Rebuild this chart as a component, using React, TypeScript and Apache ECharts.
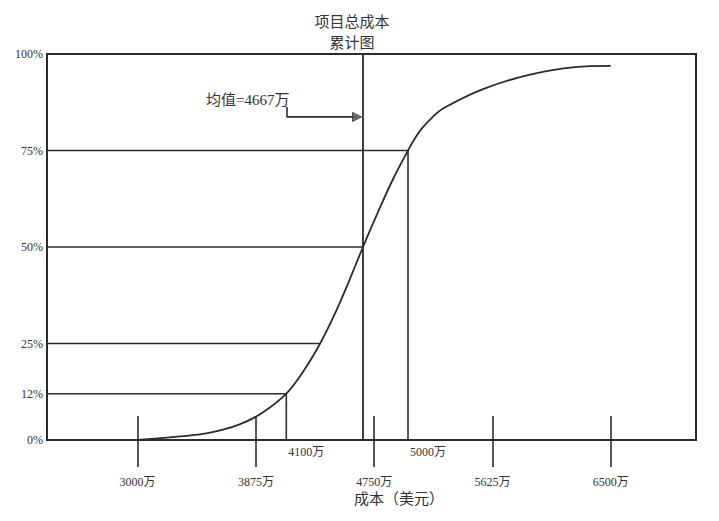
import React, { useEffect, useRef } from "react";
import * as echarts from "echarts";

// ---- data ----
const costTicks = [3000, 3875, 4750, 5625, 6500]; // x tick labels (万)
const percentTicks = [0, 12, 25, 50, 75, 100]; // y tick labels (%)

// cumulative curve: cost (万) -> cumulative probability (%)
const curveCost = [3000, 3340, 3545, 3750, 3920, 4100, 4230, 4350, 4450, 4550, 4667, 4790, 4895, 5000, 5045, 5100, 5180, 5265, 5555, 5895, 6235, 6500];
const curvePercent = [0, 1, 2, 4, 7, 12, 18, 25, 32, 40, 50, 60, 68, 75, 77.8, 80.6, 83.6, 86, 90.9, 94.6, 96.6, 96.9];

// guide levels and where they meet the curve
const guideLevels = [12, 25, 50, 75];
const guideCosts = [4100, 4350, 4667, 5000];
const dropLevels = [12, 75]; // levels with a vertical drop + label
const meanCost = 4667;
const meanArrowLevels = [86.3, 83.7]; // elbow arrow: start level, horizontal level
const meanArrowStartCost = 4105;
const meanArrowTipCost = 4623;

const xMin = 2330;
const xMax = 7130;

const INK = "#2b2b2b";
const TEXT = "#333";
const SERIF = "'Liberation Serif', 'Noto Sans CJK SC', serif";

function buildOption() {
  const guideSeries = guideLevels.map((lvl, i) => {
    const c = guideCosts[i];
    const data: any[] = [
      [xMin, lvl],
      [c, lvl],
    ];
    if (dropLevels.includes(lvl)) {
      data.push({
        value: [c, 0],
        label: {
          show: true,
          formatter: `${c}万`,
          position: [2, 6],
          fontSize: 12,
          fontFamily: SERIF,
          color: TEXT,
        },
      });
    }
    return {
      type: "line",
      data,
      symbol: "circle",
      symbolSize: 0.1,
      itemStyle: { color: "transparent" },
      lineStyle: { color: INK, width: 1.6 },
      silent: true,
      z: 3,
    };
  });

  return {
    animation: false,
    backgroundColor: "#fff",
    grid: {
      left: 47,
      right: 23,
      top: 54,
      bottom: 81,
      show: true,
      borderColor: INK,
      borderWidth: 2,
    },
    xAxis: [
      {
        type: "value",
        min: xMin,
        max: xMax,
        position: "bottom",
        axisLine: { show: true, lineStyle: { color: INK, width: 2 } },
        axisTick: {
          show: true,
          customValues: costTicks,
          length: 27,
          lineStyle: { color: INK, width: 1.6 },
        },
        axisLabel: {
          customValues: costTicks,
          formatter: (v: number) => `${v}万`,
          margin: 36,
          fontSize: 12,
          fontFamily: SERIF,
          color: TEXT,
        },
        splitLine: { show: false },
      },
      {
        type: "value",
        min: xMin,
        max: xMax,
        position: "bottom",
        axisLine: { show: false },
        axisTick: {
          show: true,
          inside: true,
          customValues: costTicks,
          length: 24,
          lineStyle: { color: INK, width: 1.6 },
        },
        axisLabel: { show: false },
        splitLine: { show: false },
      },
    ],
    yAxis: {
      type: "value",
      min: 0,
      max: 100,
      axisLine: { show: true, lineStyle: { color: INK, width: 2 } },
      axisTick: { show: false },
      axisLabel: {
        customValues: percentTicks,
        formatter: "{value}%",
        margin: 4,
        fontSize: 12,
        fontFamily: SERIF,
        color: TEXT,
      },
      splitLine: { show: false },
    },
    graphic: [
      {
        type: "text",
        x: 352,
        y: 11,
        style: {
          text: "项目总成本\n累计图",
          align: "center",
          verticalAlign: "top",
          fontSize: 15,
          lineHeight: 21,
          fontFamily: SERIF,
          fill: TEXT,
        },
      },
      {
        type: "text",
        x: 399,
        y: 491,
        style: {
          text: "成本（美元）",
          align: "center",
          verticalAlign: "top",
          fontSize: 15,
          fontFamily: SERIF,
          fill: TEXT,
        },
      },
    ],
    series: [
      {
        type: "line",
        data: curveCost.map((c, i) => [c, curvePercent[i]]),
        smooth: 0.35,
        symbol: "none",
        lineStyle: { color: INK, width: 1.8 },
        silent: true,
        z: 4,
      },
      ...guideSeries,
      {
        type: "line",
        data: [
          [meanCost, 0],
          [meanCost, 100],
        ],
        symbol: "none",
        lineStyle: { color: INK, width: 1.8 },
        silent: true,
        z: 3,
      },
      {
        type: "line",
        data: [
          {
            value: [meanArrowStartCost, meanArrowLevels[0]],
            label: {
              show: true,
              formatter: `均值=${meanCost}万`,
              position: [-81, -14],
              fontSize: 15,
              fontFamily: SERIF,
              color: TEXT,
            },
          },
          [meanArrowStartCost, meanArrowLevels[1]],
          [meanArrowTipCost, meanArrowLevels[1]],
        ],
        symbol: "circle",
        symbolSize: 0.1,
        itemStyle: { color: "transparent" },
        lineStyle: { color: INK, width: 1.6 },
        silent: true,
        z: 3,
      },
      {
        type: "scatter",
        data: [[meanArrowTipCost, meanArrowLevels[1]]],
        symbol: "triangle",
        symbolSize: 9,
        symbolRotate: -90,
        itemStyle: { color: "#555", borderColor: INK, borderWidth: 1 },
        silent: true,
        z: 5,
      },
    ],
  };
}

export default function App() {
  const ref = useRef<HTMLDivElement>(null);
  useEffect(() => {
    if (!ref.current) return;
    const chart = echarts.init(ref.current, null, { renderer: "svg" });
    chart.setOption(buildOption() as any);
    return () => chart.dispose();
  }, []);
  return (
    <div
      ref={ref}
      style={{ position: "fixed", left: 0, top: 0, width: 719, height: 521, background: "#fff" }}
    />
  );
}
